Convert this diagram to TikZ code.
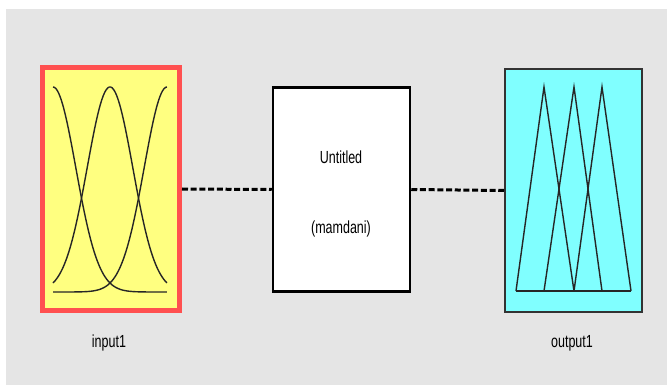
\documentclass[tikz,border=0pt]{standalone}
\usepackage{fontspec}
\setmainfont{Liberation Sans}
\definecolor{panelgray}{HTML}{E5E5E5}
\definecolor{mfyellow}{HTML}{FFFF80}
\definecolor{mfred}{HTML}{FF5050}
\definecolor{mfcyan}{HTML}{80FFFF}
\newcommand{\tallText}[1]{\scalebox{1}[1.4]{#1}}
\tikzset{
  varbox/.style={draw, minimum width=#1, inner sep=0pt},
  link/.style={line width=3pt, dash pattern=on 6pt off 2.7pt},
  mfline/.style={line width=1.4pt, black!85},
  label/.style={font=\fontsize{12.5}{14}\selectfont}
}
\begin{document}
\begin{tikzpicture}[x=1pt,y=-1pt]
        \useasboundingbox (0,0) rectangle (667,385);
        \fill[white] (0,0) rectangle (667,385);
        \fill[panelgray] (6,9) rectangle (667,385);
        % input, rule block and output
        \node[varbox=137pt, minimum height=243pt, line width=5pt, draw=mfred, fill=mfyellow] (in) at (111,189) {};
        \node[varbox=137pt, minimum height=203pt, line width=2.5pt, fill=white] (mid) at (341.5,189.5) {};
        \node[varbox=137pt, minimum height=243pt, line width=2pt, draw=black!80, fill=mfcyan] (out) at (573.5,190.5) {};
        \draw[mfred, line width=4pt] ([yshift=-2pt]in.north west) -- ([yshift=-2pt]in.north east);
        \draw[line width=1.5pt] (mid.north west) -- (mid.north east);
        \draw[line width=1.5pt] (mid.south west) -- (mid.south east);
        \draw[line width=1.5pt, black!80] ([yshift=0.75pt]out.south west) -- ([yshift=0.75pt]out.south east);
        \draw[link] (in.east) -- (mid.west);
        \draw[link] (mid.east) -- (out.west);
        % membership functions
        \foreach \c in {0,0.5,1}
          \draw[mfline] plot[domain=0:1, samples=80, smooth] ({53+114*\x},{292-205*exp(-(\x-\c)^2/0.08)});
        \draw[mfline] (516,291) -- (544,87) -- (574,291);
        \draw[mfline] (544,291) -- (574,87) -- (602,291);
        \draw[mfline] (574,291) -- (602,87) -- (631,291);
        \draw[mfline] (516,291) -- (631,291);
        % texts
        \node[label] (title) at (341,157) {\tallText{Untitled}};
        \node[label] (kind) at (341,229) {\tallText{(mamdani)}};
        \node[label] (inname) at (109,343) {\tallText{input1}};
        \node[label] (outname) at (572,343) {\tallText{output1}};
    \end{tikzpicture}
\end{document}
